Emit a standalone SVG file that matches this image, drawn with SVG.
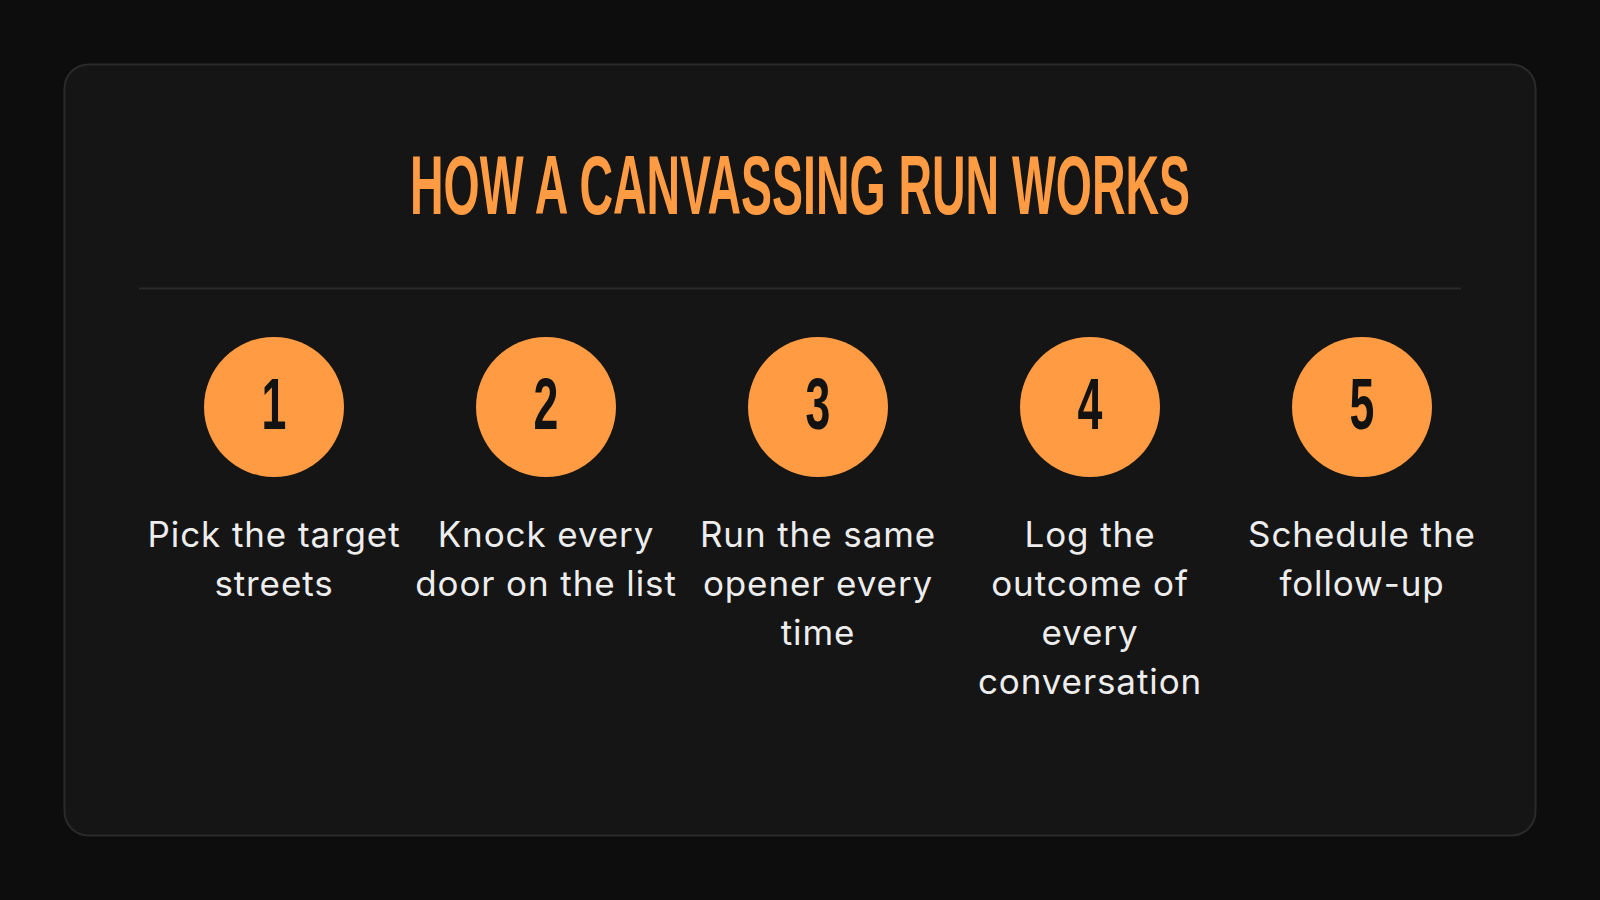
<svg xmlns="http://www.w3.org/2000/svg" width="1600" height="900" viewBox="0 0 1600 900">
  <style>
    .title { font-family: "Liberation Sans", Arial, sans-serif; font-weight: 700; font-size: 84px; fill: #FF9B42; text-anchor: middle; }
    .circle { fill: #FF9B42; }
    .num { font-family: "Liberation Sans", Arial, sans-serif; font-weight: 700; font-size: 72px; fill: #121212; text-anchor: middle; }
    .label { font-family: Inter, "Noto Sans", sans-serif; font-weight: 400; font-size: 35px; letter-spacing: 0.9px; fill: #EDEDED; text-anchor: middle; }
  </style>
  <rect x="0" y="0" width="1600" height="900" fill="#0D0D0D"/>
  <rect x="64.5" y="64.5" width="1471" height="771" rx="24" fill="#151515" stroke="#2A2A2A" stroke-width="2"/>
  <text class="title" transform="translate(800 214) scale(0.553 1)">HOW A CANVASSING RUN WORKS</text>
  <line x1="139" y1="288.5" x2="1461" y2="288.5" stroke="#2A2A2A" stroke-width="2"/>
  <g id="connectors"></g>
  <g id="step1">
    <circle class="circle" cx="274" cy="407" r="70"/>
    <text class="num" transform="translate(274 429) scale(0.62 1)">1</text>
    <text class="label" x="274" y="547">Pick the target</text>
    <text class="label" x="274" y="596">streets</text>
  </g>
  <g id="step2">
    <circle class="circle" cx="546" cy="407" r="70"/>
    <text class="num" transform="translate(546 429) scale(0.62 1)">2</text>
    <text class="label" x="546" y="547">Knock every</text>
    <text class="label" x="546" y="596">door on the list</text>
  </g>
  <g id="step3">
    <circle class="circle" cx="818" cy="407" r="70"/>
    <text class="num" transform="translate(818 429) scale(0.62 1)">3</text>
    <text class="label" x="818" y="547">Run the same</text>
    <text class="label" x="818" y="596">opener every</text>
    <text class="label" x="818" y="645">time</text>
  </g>
  <g id="step4">
    <circle class="circle" cx="1090" cy="407" r="70"/>
    <text class="num" transform="translate(1090 429) scale(0.62 1)">4</text>
    <text class="label" x="1090" y="547">Log the</text>
    <text class="label" x="1090" y="596">outcome of</text>
    <text class="label" x="1090" y="645">every</text>
    <text class="label" x="1090" y="694">conversation</text>
  </g>
  <g id="step5">
    <circle class="circle" cx="1362" cy="407" r="70"/>
    <text class="num" transform="translate(1362 429) scale(0.62 1)">5</text>
    <text class="label" x="1362" y="547">Schedule the</text>
    <text class="label" x="1362" y="596">follow-up</text>
  </g>
</svg>
